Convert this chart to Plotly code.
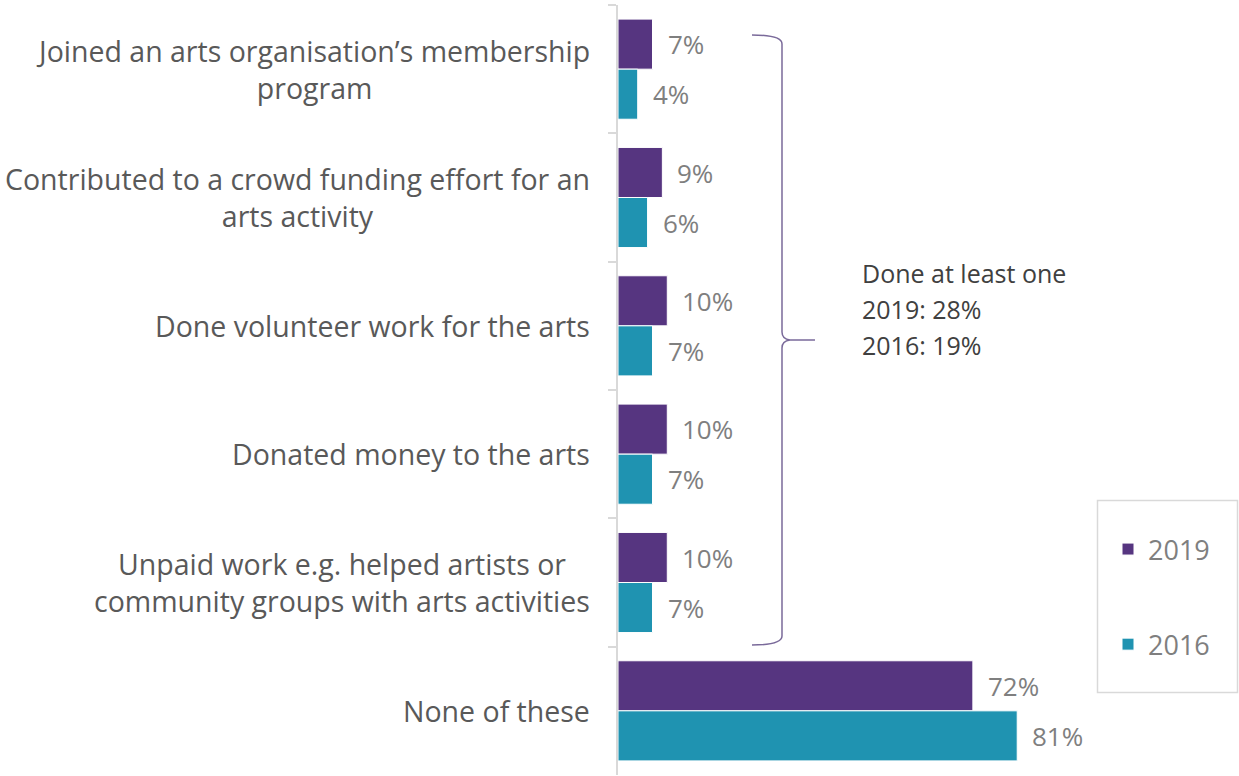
import plotly.graph_objects as go

# Survey categories (top to bottom) and share of respondents per year (%)
categories = [
    "Joined an arts organisation’s membership<br>program",
    "Contributed to a crowd funding effort for an<br>arts activity",
    "Done volunteer work for the arts",
    "Donated money to the arts",
    "Unpaid work e.g. helped artists or<br>community groups with arts activities",
    "None of these",
]
values_2019 = [7, 9, 10, 10, 10, 72]
values_2016 = [4, 6, 7, 7, 7, 81]
summary_lines = ["Done at least one", "2019: 28%", "2016: 19%"]

W, H = 1239, 776
ML, MR, MT, MB = 618, 0, 5, 1
PW, PH = W - ML - MR, H - MT - MB
X_MAX = 126

PURPLE = "#563580"
TEAL = "#1f93b1"
LABEL_GRAY = "#595959"
VALUE_GRAY = "#7f7f7f"
FONT = "Open Sans"


def px_x(x):
    return (x - ML) / PW


def px_y(y):
    return 1 - (y - MT) / PH


fig = go.Figure()
fig.add_trace(go.Bar(
    name="2019", y=categories, x=values_2019, orientation="h",
    marker=dict(color=PURPLE, line=dict(color="white", width=1)),
    legendgroup="a",
))
fig.add_trace(go.Bar(
    name="2016", y=categories, x=values_2016, orientation="h",
    marker=dict(color=TEAL, line=dict(color="white", width=1)),
    legendgroup="b",
))

annotations = []
# category labels, right-aligned block with centred lines
for cat in categories:
    annotations.append(dict(
        x=0, y=cat, xref="x", yref="y", text=cat, showarrow=False,
        xanchor="right", align="center", xshift=-26,
        font=dict(family=FONT, size=28.5, color=LABEL_GRAY),
    ))

# value labels placed just beyond each bar
for cat, v19, v16 in zip(categories, values_2019, values_2016):
    for v, shift in ((v19, 25), (v16, -25)):
        annotations.append(dict(
            x=v, y=cat, xref="x", yref="y", text=f"{v}%", showarrow=False,
            xanchor="left", xshift=13, yshift=shift,
            font=dict(family=FONT, size=26, color=VALUE_GRAY),
        ))

# summary note next to the bracket
for i, line in enumerate(summary_lines):
    annotations.append(dict(
        x=px_x(860), y=px_y(273 + 36 * i), xref="paper", yref="paper",
        text=line, showarrow=False, xanchor="left", yanchor="middle",
        font=dict(family=FONT, size=25, color="#404040"),
    ))

# curly bracket grouping the first five activities
pts = [
    ("M", [(752, 35)]),
    ("Q", [(782, 35), (782, 44)]),
    ("L", [(782, 332)]),
    ("Q", [(782, 339), (790, 340)]),
    ("L", [(815, 340)]),
    ("M", [(790, 340)]),
    ("Q", [(782, 341), (782, 348)]),
    ("L", [(782, 636)]),
    ("Q", [(782, 645), (752, 645)]),
]
path = ""
for cmd, coords in pts:
    path += cmd + " " + " ".join(f"{px_x(x):.5f},{px_y(y):.5f}" for x, y in coords) + " "

shapes = [
    dict(type="path", path=path.strip(), xref="paper", yref="paper",
         line=dict(color="#7a6a9a", width=1.5)),
    dict(type="rect", xref="paper", yref="paper",
         x0=px_x(1097.5), x1=px_x(1237.5), y0=px_y(500.5), y1=px_y(692.5),
         line=dict(color="#d9d9d9", width=1.5), fillcolor="rgba(0,0,0,0)"),
]

fig.update_layout(
    width=W, height=H,
    margin=dict(l=ML, r=MR, t=MT, b=MB, pad=0),
    paper_bgcolor="white", plot_bgcolor="white",
    barmode="group", bargap=0.22, bargroupgap=0,
    font=dict(family=FONT),
    xaxis=dict(range=[0, X_MAX], visible=False, fixedrange=True),
    yaxis=dict(
        autorange="reversed", showticklabels=False, showgrid=False,
        showline=True, linecolor="#d9d9d9", linewidth=2,
        ticks="outside", tickson="boundaries", ticklen=8,
        tickcolor="#d9d9d9", tickwidth=2,
    ),
    legend=dict(
        x=px_x(1108), y=px_y(525), xanchor="left", yanchor="top",
        traceorder="grouped", tracegroupgap=57, itemwidth=30,
        font=dict(family=FONT, size=27, color=VALUE_GRAY),
        bgcolor="rgba(0,0,0,0)", borderwidth=0,
    ),
    annotations=annotations,
    shapes=shapes,
)

fig.write_html("out.html")
